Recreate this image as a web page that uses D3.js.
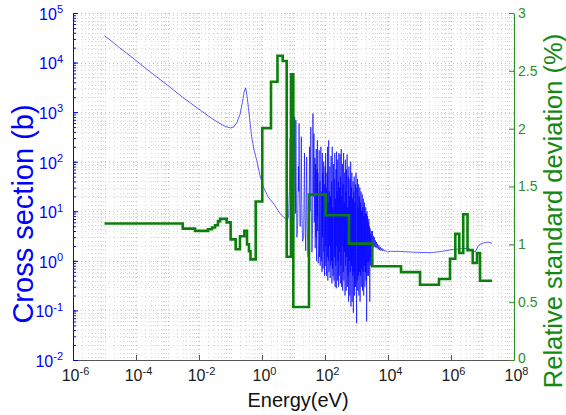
<!DOCTYPE html>
<html><head><meta charset="utf-8">
<script src="https://cdn.jsdelivr.net/npm/d3@7"></script>
<style>body{margin:0;background:#fff} text{font-family:"Liberation Sans",Arial,sans-serif}</style>
</head><body><svg id="c" width="566" height="415"></svg>
<script>
// Cross section (b) vs energy (eV)
const xsPoints = [
[1e-5,35000],[3e-5,20000],[1e-4,11000],[3e-4,6300],[1e-3,3500],[3e-3,2000],[1e-2,1150],[2e-2,830],[4e-2,620],[7e-2,510],
[0.1,480],[0.13,510],[0.16,620],[0.2,900],[0.24,1600],[0.27,2500],[0.3,3100],[0.33,2300],[0.37,1250],[0.42,600],[0.47,316],
[0.56,170],[0.68,107],[0.85,55],[1.1,31],[1.6,19],[2.3,14.5],[3.7,9.1],[5.0,7.5],[5.8,6.9],[6.4,6.6],
[7.0,8],[7.4,25],[7.7,150],[7.85,300],[8.0,90],[8.3,20],[8.8,7],[9.5,4],[10.2,8],[10.6,60],[10.9,800],[11.2,60],[11.5,9],
[11.9,690],[12.2,40],[12.8,3],[13.6,6],[14.3,80],[14.6,25],[15.0,590],[15.4,60],[16.0,5],[16.8,5],[17.7,320],[18.3,15],
[19.5,2.5],[21.0,3],[22.3,150],[23.2,8],[24.5,1.6],[26.2,125],[27.3,5],[29.0,1.2],[30.5,3],[32.3,200],[33.5,10],[35.5,500],
[36.8,12],[38.5,1.5],[40.0,4],[41.4,940],[43.0,20],[44.5,370],[45.8,6],[47.6,120],[49.0,1.8],[50.1,90],[51.5,3],[52.6,180],
[54.0,1.0],[55.6,70],[56.5,8],[57.4,270],[58.5,4],[59.2,60],[61.0,0.9],[63.0,2],[65.4,170],[67.0,1.2],[69.0,40],[70.5,0.8],
[72.0,3],[74.0,200],[75.0,50],[76.5,1.0],[78.5,25],[80.5,0.6],[82.6,150],[84.0,3],[85.5,60],[87.0,0.7],[89.0,20],[90.8,100],
[92.5,1.5],[94.5,35],[96.5,0.5],[98.5,12],[100.5,80],[102.5,0.8],[105,150],[107,2],[109,30],[111,0.5],[113,9],[115.5,60],
[118,1.2],[120.5,200],[123,0.4],[126,15],[128,1.0],[131,270],[134,0.6],[137,25],[140,2],[143,80],[146,0.45],[149,20],
[152,0.8],[156,130],[159,1.0],[163,40],[166,0.35],[170,200],[174,0.7],[177,12],[181,0.5],[185,90],[189,3],[193,0.4],
[197,45],[201,1.2],[205,150],[210,0.3],[214,18],[219,0.8],[223,70],[228,0.28],[233,160],[238,2],[243,25],[248,0.4],
[253,110],[259,1.0],[264,40],[270,0.3],[276,150],[282,0.5],[288,30],[294,1.5],[301,140],[307,0.35],[314,50],[321,0.8],
[328,180],[335,0.3],[342,20],[350,2],[357,90],[365,0.25],[373,35],[381,0.6],[389,150],[398,0.4],[406,15],[415,1.5],
[424,60],[433,0.2],[443,110],[452,0.8],[462,25],[472,0.25],[482,70],[493,1.2],[504,140],[515,0.3],[526,12],[537,0.5],
[549,50],[561,0.15],[573,80],[586,1.0],[599,20],[612,0.2],[625,45],[639,0.6],[653,100],[667,0.12],[682,30],[697,0.8],
[712,60],[728,0.15],[744,18],[760,0.5],[777,40],[794,0.09],[811,25],[829,0.6],[847,50],[866,0.2],[885,15],[904,0.3],
[924,35],[944,0.3],[965,60],[986,0.5],[1010,0.055],[1030,30],[1050,0.4],[1075,45],[1100,0.25],[1120,12],[1145,0.5],
[1170,35],[1195,0.2],[1220,20],[1250,0.6],[1275,30],[1300,0.15],[1330,15],[1360,0.5],[1390,25],[1420,0.3],[1450,10],
[1480,0.7],[1515,22],[1550,0.25],[1580,12],[1615,0.6],[1650,18],[1690,0.2],[1725,8],[1765,0.8],[1800,15],[1840,0.3],
[1880,9],[1920,0.6],[1960,12],[2000,0.4],[2050,9],[2100,0.06],[2150,10],[2200,0.5],[2250,8],[2300,0.9],[2350,6],
[2400,0.5],[2460,7],[2520,1.0],[2580,5],[2640,0.15],[2700,4.5],[2760,0.8],[2820,3.5],[2890,1.2],[2960,4],[3030,1.0],
[3100,2.5],[3200,4.0],[3300,1.8],[3420,3.2],[3550,2.0],[3680,3.0],[3820,1.9],[3970,2.6],[4120,1.85],[4300,2.4],
[4480,1.8],[4680,2.2],[4900,1.7],[5150,2.05],[5400,1.65],[5700,1.9],[6000,1.6],[6400,1.8],[6800,1.58],[7300,1.7],
[7900,1.55],[8600,1.62],[9500,1.52],[1.2e4,1.56],[2.5e4,1.55],[6e4,1.5],[2.2e5,1.46],[5e5,1.55],[1.2e6,1.7],[2.2e6,1.76],
[3.6e6,1.78],[5.0e6,1.6],[5.9e6,1.52],[7.0e6,1.9],[8.3e6,2.17],[1.1e7,2.3],[1.5e7,2.4],[2.0e7,2.25]
];

// Relative standard deviation (%) step function: bin edges (eV) and values
const rsdEdges = [1e-5,3.04e-3,7.5e-3,0.0193,0.0259,0.0324,0.0401,0.0464,0.0757,0.101,0.146,0.2,0.274,0.334,0.386,0.431,
  0.631,1.02,1.93,3.1,4.54,6.08,8.33,9.87,31,105,578,3180,25900,1.04e5,4.16e5,9.3e5,1.37e6,1.83e6,2.45e6,3.34e6,4.89e6,6.69e6,8.33e6,2e7];
const rsdValues = [1.18,1.136,1.116,1.13,1.145,1.165,1.2,1.22,1.19,1.043,0.957,1.07,1.116,1.0,0.94,0.87,
  1.37,2.005,2.405,2.63,2.585,0.893,2.47,0.458,1.43,1.252,1.006,0.81,0.76,0.65,0.70,0.875,1.09,0.925,1.26,0.95,0.84,0.925,0.685];

const xTickExps = [-6,-4,-2,0,2,4,6,8];
const yLeftTickExps = [-2,-1,0,1,2,3,4,5];
const yRightTicks = [0,0.5,1,1.5,2,2.5,3];

const L=73, R=514, T=13, B=360;
const svg = d3.select("#c");
const x = d3.scaleLog().domain([1e-6,1e8]).range([L,R]);
const yL = d3.scaleLog().domain([1e-2,1e5]).range([B,T]);
const yR = d3.scaleLinear().domain([0,3]).range([B,T]);

// grid
const xMinor=[], yMinor=[];
for(let n=-6;n<8;n++) for(let k=1;k<10;k++) xMinor.push(k*Math.pow(10,n));
xMinor.push(1e8);
for(let n=-2;n<5;n++) for(let k=1;k<10;k++) yMinor.push(k*Math.pow(10,n));
yMinor.push(1e5);
const isDecade = d=>Math.abs(Math.log10(d)-Math.round(Math.log10(d)))<1e-9;
const grid = svg.append("g");
grid.selectAll(".vx").data(xMinor.filter(d=>d>1e-6&&d<1e8)).enter().append("line")
  .attr("x1",d=>Math.round(x(d))+0.5).attr("x2",d=>Math.round(x(d))+0.5).attr("y1",T).attr("y2",B)
  .attr("stroke",d=>isDecade(d)?"#c4c4d0":"#d6d6f0").attr("stroke-width",1).attr("stroke-dasharray","1,3");
grid.selectAll(".hy").data(yMinor.filter(d=>d>1e-2)).enter().append("line")
  .attr("y1",d=>Math.round(yL(d))+0.5).attr("y2",d=>Math.round(yL(d))+0.5).attr("x1",L).attr("x2",R)
  .attr("stroke",d=>isDecade(d)?"#c4c4d0":"#d6d6f0").attr("stroke-width",1).attr("stroke-dasharray","1,3");

// cross section line
svg.append("path").datum(xsPoints)
  .attr("d", d3.line().x(d=>x(d[0])).y(d=>yL(d[1])))
  .attr("fill","none").attr("stroke","#0000ff").attr("stroke-width",0.8).attr("stroke-opacity",0.8);

// rsd step line
const stepData = rsdValues.map((v,i)=>[rsdEdges[i],v]);
stepData.push([rsdEdges[rsdEdges.length-1], rsdValues[rsdValues.length-1]]);
svg.append("path").datum(stepData)
  .attr("d", d3.line().curve(d3.curveStepAfter).x(d=>x(d[0])).y(d=>yR(d[1])))
  .attr("fill","none").attr("stroke","#0a800a").attr("stroke-width",2.6).attr("stroke-linejoin","miter");

function supLabel(sel){
  sel.selectAll(".tick text").each(function(d){
    const t=d3.select(this); const e=Math.round(Math.log10(d));
    t.text("");
    t.append("tspan").text("10");
    t.append("tspan").attr("dy","-0.6em").attr("font-size","11px").text(String(e));
  });
}

// bottom axis
const gx = svg.append("g").attr("transform",`translate(0,${B})`)
  .call(d3.axisBottom(x).tickValues(xTickExps.map(e=>Math.pow(10,e))).tickSize(-5).tickSizeOuter(0).tickPadding(10));
gx.select(".domain").attr("stroke","#555");
gx.selectAll(".tick line").attr("stroke","#555");
gx.selectAll(".tick text").attr("font-size","16px").attr("fill","#1a1a1a").attr("dy","0.71em");
supLabel(gx);
gx.selectAll(".tick text").attr("transform","translate(2,0)");

// left axis
const gl = svg.append("g").attr("transform",`translate(${L},0)`)
  .call(d3.axisLeft(yL).tickValues(yLeftTickExps.map(e=>Math.pow(10,e))).tickSize(-5).tickSizeOuter(0).tickPadding(10));
gl.select(".domain").attr("stroke","#0000ff");
gl.selectAll(".tick line").attr("stroke","#0000ff");
gl.selectAll(".tick text").attr("font-size","16px").attr("fill","#0000ff").attr("dy","0.4em");
supLabel(gl);
svg.append("g").attr("transform",`translate(${L},0)`)
  .call(d3.axisLeft(yL).tickValues(yMinor).tickSize(-3).tickSizeOuter(0).tickFormat(""))
  .call(g=>{g.select(".domain").remove(); g.selectAll("line").attr("stroke","#0000ff");});

// right axis
const gr = svg.append("g").attr("transform",`translate(${R},0)`)
  .call(d3.axisRight(yR).tickValues(yRightTicks).tickSize(-5).tickSizeOuter(0).tickPadding(4).tickFormat(d3.format("")));
gr.select(".domain").attr("stroke","#2a8f2a");
gr.selectAll(".tick line").attr("stroke","#2a8f2a");
gr.selectAll(".tick text").attr("font-size","14px").attr("fill","#2a8f2a");
gr.selectAll(".tick text").filter(d=>d===0).attr("dy","0.2em");

// titles
svg.append("text").attr("x",298).attr("y",407).attr("text-anchor","middle")
  .attr("font-size","20px").attr("fill","#111").text("Energy(eV)");
svg.append("text").attr("transform","translate(23,214) rotate(-90)").attr("text-anchor","middle")
  .attr("dominant-baseline","central").attr("font-size","29px").attr("fill","#0000ff").text("Cross section (b)");
svg.append("text").attr("transform","translate(553,211) rotate(-90)").attr("text-anchor","middle")
  .attr("dominant-baseline","central").attr("font-size","25.5px").attr("fill","#128a12").text("Relative standard deviation (%)");
</script></body></html>
